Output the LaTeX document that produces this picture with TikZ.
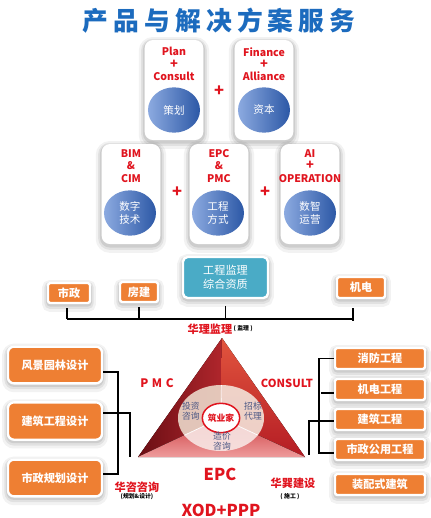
\documentclass[tikz,border=0pt]{standalone}
\usepackage{fontspec}
\setmainfont{Noto Sans CJK SC}
\usetikzlibrary{shapes.geometric, shadows, calc}

\definecolor{titleBlue}{HTML}{1C6BBE}
\definecolor{tagRed}{HTML}{E0141E}
\definecolor{ballLight}{HTML}{8CAAE0}
\definecolor{ballDark}{HTML}{2C58A6}
\definecolor{boxOrange}{HTML}{EE7F33}
\definecolor{boxTeal}{HTML}{4AABC6}
\definecolor{sectorText}{HTML}{4B5784}
\definecolor{faceDark}{HTML}{6A0E14}
\definecolor{faceMid}{HTML}{B0262C}
\definecolor{faceBright}{HTML}{E2553E}
\definecolor{faceRed}{HTML}{B41C24}
\definecolor{facePink}{HTML}{EE9C9C}
\definecolor{faceRose}{HTML}{CC3A3E}
\definecolor{sectorA}{HTML}{E9D4C6}
\definecolor{sectorB}{HTML}{F2DFD5}
\definecolor{sectorC}{HTML}{F7E4E2}

\newcommand{\tplus}{{\fontsize{11}{10.5}\selectfont +}}

\tikzset{
  halo/.style={
    preaction={draw=black, opacity=0.05, line width=10pt, transform canvas={yshift=-2.5pt}},
    preaction={draw=black, opacity=0.07, line width=6pt, transform canvas={yshift=-2pt}},
    preaction={draw=black, opacity=0.09, line width=3pt, transform canvas={yshift=-1.5pt}}},
  title/.style={text=titleBlue, font=\bfseries\fontsize{22}{22}\selectfont\addfontfeatures{LetterSpace=20}},
  card/.style={rectangle, rounded corners=7pt, fill=white, minimum width=1.76cm, minimum height=3cm, halo},
  ball/.style={ellipse, inner sep=0pt, minimum width=1.56cm, minimum height=1.36cm,
    left color=ballLight, right color=ballDark, text=white, align=center,
    font=\fontsize{9}{11}\selectfont},
  tag/.style={text=tagRed, align=center, inner sep=0pt, font=\bfseries\fontsize{9}{10.5}\selectfont},
  plus/.style={text=tagRed, inner sep=0pt, font=\bfseries\fontsize{14}{14}\selectfont},
  obox/.style={rectangle, rounded corners=2pt, fill=boxOrange, draw=white, line width=2pt,
    text=white, inner sep=0pt, font=\bfseries\fontsize{9.5}{10}\selectfont, halo},
  tbox/.style={obox, fill=boxTeal, rounded corners=4pt, align=center, font=\fontsize{9.5}{12}\selectfont},
  link/.style={line width=1.6pt, black},
  hub/.style={ellipse, inner sep=0pt, fill=white, draw=tagRed, line width=1.3pt,
    minimum width=1.12cm, minimum height=0.88cm, text=tagRed, font=\bfseries\fontsize{7.5}{8}\selectfont},
  sector/.style={text=sectorText, align=center, inner sep=0pt, font=\fontsize{7.5}{8.5}\selectfont},
  firm/.style={text=tagRed, inner sep=0pt, font=\bfseries\fontsize{9.5}{10}\selectfont},
  note/.style={text=black, inner sep=0pt, font=\bfseries\fontsize{5}{6}\selectfont},
  mode/.style={text=tagRed, inner sep=0pt, font=\bfseries\fontsize{9.5}{10}\selectfont},
  big/.style={text=tagRed, inner sep=0pt, font=\bfseries\fontsize{14}{14}\selectfont}
}

\begin{document}
\begin{tikzpicture}[x=0.03cm, y=-0.03cm]
    \useasboundingbox (0,0) rectangle (431,518);

    % Title
    \node[title] (title) at (219,21) {产品与解决方案服务};

    % Top row of cards
    \node[card] (plan) at (174,90) {};
    \node[card] (fin) at (264,90) {};
    \node[tag] (planTag) at (174,64) {Plan\\\tplus\\Consult};
    \node[tag] (finTag) at (264,64) {Finance\\\tplus\\Alliance};
    \node[ball] (planBall) at (174,110) {策划};
    \node[ball] (finBall) at (264,110) {资本};
    \node[plus] (plusA) at (219,91) {+};

    % Second row of cards
    \node[card] (bim) at (131,194) {};
    \node[card] (epc) at (219,194) {};
    \node[card] (ai) at (310,194) {};
    \node[tag] (bimTag) at (131,166) {BIM\\\&\\CIM};
    \node[tag] (epcTag) at (219,166) {EPC\\\&\\PMC};
    \node[tag] (aiTag) at (310,166) {AI\\\tplus\\OPERATION};
    \node[ball] (bimBall) at (130,213) {数字\\技术};
    \node[ball] (epcBall) at (218,213) {工程\\方式};
    \node[ball] (aiBall) at (310,213) {数智\\运营};
    \node[plus] (plusB) at (177,192) {+};
    \node[plus] (plusC) at (265,192) {+};

    % Qualification boxes and bus
    \node[obox, minimum width=1.26cm, minimum height=0.6cm] (shizheng) at (69,293) {市政};
    \node[obox, minimum width=1.14cm, minimum height=0.6cm] (fangjian) at (139,292) {房建};
    \node[tbox, minimum width=2.55cm, minimum height=1.23cm] (zizhi) at (225.5,277.5) {工程监理\\综合资质};
    \node[obox, minimum width=1.44cm, minimum height=0.63cm] (jidian) at (361,287.5) {机电};

    \coordinate (busL) at (67,319);
    \coordinate (busR) at (353,319);
    \coordinate (busRt) at (353,308);
    \coordinate (busRb) at (353,321);
    \draw[link] (busL) -- (busR);
    \draw[link, shorten <=0.12cm] (shizheng.south -| busL) -- (busL);
    \draw[link, shorten <=0.12cm] (fangjian.south) -- (fangjian.south |- busL);
    \draw[link, shorten <=0.2cm] (zizhi.south) -- (zizhi.south |- busL);
    \draw[link] (busRt) -- (busRb);

    \node[firm] (huali) at (210,329) {华理监理};
    \node[note, anchor=west] (hualiNote) at (huali.east) {\,( 监理 )};

    % Pyramid
    \coordinate (apex) at (222,338);
    \coordinate (tbl) at (138,457);
    \coordinate (tbr) at (305,457);
    \coordinate (tc) at (221,418);
    \fill[left color=faceDark, right color=faceMid] (apex) -- (tbl) -- (tc) -- cycle;
    \fill[top color=faceBright, bottom color=faceRed] (apex) -- (tc) -- (tbr) -- cycle;
    \fill[top color=faceRose, bottom color=facePink] (tbl) -- (tc) -- (tbr) -- cycle;

    \begin{scope}
        \clip (tc) ellipse [x radius=1.29cm, y radius=0.99cm];
        \fill[fill=sectorA, opacity=0.92] (tc) -- (apex) -- (tbl) -- cycle;
        \fill[fill=sectorB, opacity=0.92] (tc) -- (apex) -- (tbr) -- cycle;
        \fill[fill=sectorC, opacity=0.92] (tc) -- (tbl) -- (tbr) -- cycle;
        \draw[white, line width=0.6pt] (tc) -- (apex) (tc) -- (tbl) (tc) -- (tbr);
    \end{scope}

    \node[hub] (hub) at (tc) {筑业家};
    \node[sector] (touzi) at (191,411) {投资\\咨询};
    \node[sector] (zhaobiao) at (253,411) {招标\\代理};
    \node[sector] (zaojia) at (222,441) {造价\\咨询};

    \node[mode, font=\bfseries\fontsize{10}{10}\selectfont\addfontfeatures{LetterSpace=30}] (pmc) at (157,383) {PMC};
    \node[mode] (consult) at (287,383) {CONSULT};
    \node[big] (epcMode) at (220,474) {EPC};
    \node[big] (xod) at (221,510) {XOD+PPP};

    \node[firm] (huazi) at (137,487) {华咨咨询};
    \node[note] (huaziNote) at (137,497) {(规划\&设计)};
    \node[firm] (huaxun) at (293,483) {华巽建设};
    \node[note] (huaxunNote) at (290,497) {( 施工 )};

    % Design boxes (left)
    \node[obox, rounded corners=5pt, minimum width=2.82cm, minimum height=1.1cm] (l1) at (55,365) {风景园林设计};
    \node[obox, rounded corners=5pt, minimum width=2.82cm, minimum height=1.12cm] (l2) at (55,421) {建筑工程设计};
    \node[obox, rounded corners=5pt, minimum width=2.82cm, minimum height=1.1cm] (l3) at (55,478) {市政规划设计};

    \coordinate (lfoot) at (130,457);
    \draw[link] ([yshift=-0.21cm]l1.east) -- ++(15,0) |- ([yshift=0.12cm]l3.east);
    \draw[link] ([yshift=0.24cm]l2.east) -| (lfoot);

    % Construction boxes (right)
    \node[obox, minimum width=2.7cm, minimum height=0.63cm] (r1) at (380,358.5) {消防工程};
    \node[obox, minimum width=2.7cm, minimum height=0.63cm] (r2) at (380,389.5) {机电工程};
    \node[obox, minimum width=2.7cm, minimum height=0.63cm] (r3) at (380,419.5) {建筑工程};
    \node[obox, minimum width=2.7cm, minimum height=0.63cm] (r4) at (380,449.5) {市政公用工程};
    \node[obox, minimum width=2.7cm, minimum height=0.63cm] (r5) at (380,484.5) {装配式建筑};

    \coordinate (rfoot) at (309,455);
    \draw[link] (r1.west) -- ++(-15,0) |- ([yshift=-0.1cm]r4.west);
    \draw[link] ([yshift=-0.1cm]r2.west) -- ++(-13,0);
    \draw[link] ([yshift=-0.05cm]r3.west) -| (rfoot);

\end{tikzpicture}
\end{document}
